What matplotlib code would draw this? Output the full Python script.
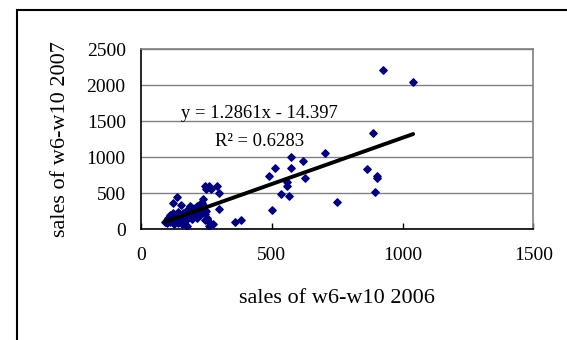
import matplotlib
matplotlib.use("Agg")
import matplotlib.pyplot as plt
from matplotlib.patches import Rectangle

# sales per item, weeks 6-10 (2006 vs 2007)
sales_2006 = [925, 1040, 888, 703, 574, 620, 513, 575, 489, 864, 902, 902, 628,
              559, 559, 536, 566, 895, 749, 499, 361, 384,
              243, 258, 248, 268, 290, 299,
              136, 124, 151, 238, 232, 225, 240, 299, 187, 194, 174, 162, 200,
              219, 232, 124, 111, 117, 130, 143, 98, 92, 111, 155, 162, 177,
              194, 213, 244, 261, 251, 276, 260, 181, 206, 213, 225, 143, 253,
              105, 120, 135, 150, 160, 170, 185, 195, 205, 215, 228, 235, 245,
              250, 140, 155, 165, 180, 125, 100]
sales_2007 = [2215, 2050, 1333, 1053, 1000, 942, 858, 858, 745, 833, 742, 718, 718,
              655, 606, 497, 467, 522, 384, 272, 108, 136,
              606, 606, 560, 560, 606, 500,
              450, 361, 333, 416, 370, 347, 324, 278, 324, 278, 268, 222, 245,
              268, 245, 231, 199, 176, 176, 176, 129, 106, 106, 129, 92, 51,
              139, 152, 129, 97, 152, 80, 50, 199, 199, 222, 199, 245, 143,
              150, 120, 140, 100, 160, 120, 240, 300, 290, 330, 230, 300, 210,
              260, 90, 70, 110, 150, 80, 90]

# linear trendline as reported on the chart
slope = 1.2861
intercept = -14.397
r_squared = 0.6283

x_ticks = [0, 500, 1000, 1500]
y_ticks = [0, 500, 1000, 1500, 2000, 2500]

plt.rcParams['font.family'] = ['Liberation Serif', 'DejaVu Serif']

fig = plt.figure(figsize=(5.67, 3.4), dpi=100)
ax = fig.add_axes([0.2487, 0.3256, 0.6922, 0.5294])

# chart border (cut off at right and bottom in the original)
fig.add_artist(Rectangle((0.0295, -0.2), 1.5, 0.9706 + 0.2, transform=fig.transFigure,
                         fill=False, edgecolor='black', linewidth=1.5))

ax.scatter(sales_2006, sales_2007, marker='D', s=14, color='#000080', zorder=3)

x_min, x_max = min(sales_2006), max(sales_2006)
ax.plot([x_min, x_max], [slope * x_min + intercept, slope * x_max + intercept],
        color='black', linewidth=2.8, solid_capstyle='round', zorder=4)

ax.set_xlim(0, 1500)
ax.set_ylim(0, 2500)
ax.set_xticks(x_ticks)
ax.set_yticks(y_ticks)
ax.tick_params(axis='x', direction='in', length=4, width=1, pad=13, labelsize=14)
ax.tick_params(axis='y', direction='in', length=0, pad=11, labelsize=14)

ax.yaxis.grid(True, color='#808080', linewidth=1)
ax.set_axisbelow(True)
for side in ['top', 'right']:
    ax.spines[side].set_color('#808080')
    ax.spines[side].set_linewidth(1.2)
for side in ['left', 'bottom']:
    ax.spines[side].set_color('black')
    ax.spines[side].set_linewidth(1.2)

ax.set_xlabel('sales of w6-w10 2006', fontsize=16, labelpad=18)
ax.set_ylabel('sales of w6-w10 2007', fontsize=16, labelpad=12)

sign = '-' if intercept < 0 else '+'
ax.text(0.102, 0.646, f'y = {slope}x {sign} {abs(intercept)}', transform=ax.transAxes,
        fontsize=13.4, va='center', ha='left')
ax.text(0.1885, 0.49, f'R² = {r_squared}', transform=ax.transAxes,
        fontsize=13.4, va='center', ha='left')

fig.savefig('out.png', dpi=100)
